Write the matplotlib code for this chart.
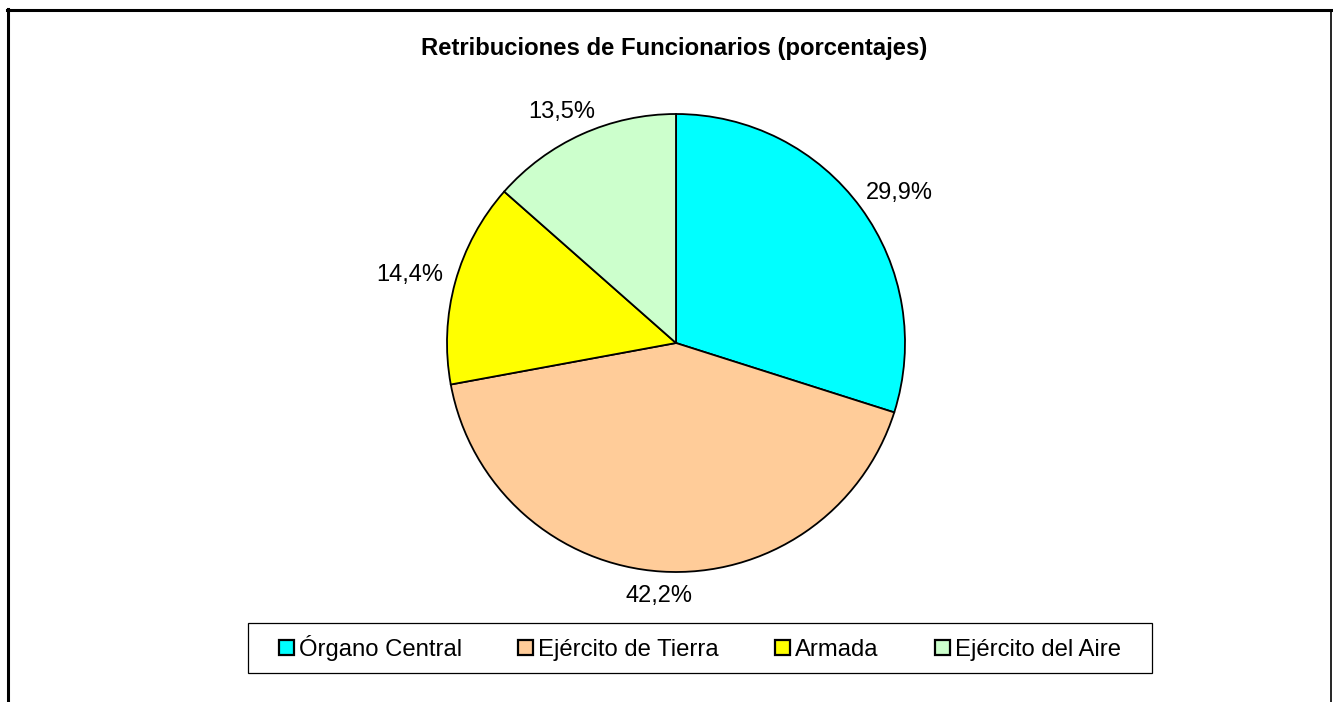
import math
import matplotlib.pyplot as plt
from matplotlib.patches import Patch, Rectangle
from matplotlib.lines import Line2D

# Chart data
categories = ['Órgano Central', 'Ejército de Tierra', 'Armada', 'Ejército del Aire']
shares = [29.9, 42.2, 14.4, 13.5]
colors = ['#00FFFF', '#FFCC99', '#FFFF00', '#CCFFCC']
title = 'Retribuciones de Funcionarios (porcentajes)'

plt.rcParams['font.family'] = ['Liberation Sans', 'DejaVu Sans']

W, H = 1333, 702
fig = plt.figure(figsize=(W / 100, H / 100), dpi=100)
fig.patch.set_facecolor('white')

# Pie area (square), centered on the pie center
cx, cy, r = 676, 343, 229
ax = fig.add_axes([(cx - r) / W, (H - cy - r) / H, 2 * r / W, 2 * r / H])

wedges, _ = ax.pie(shares, colors=colors, startangle=90, counterclock=False,
                   wedgeprops={'edgecolor': 'black', 'linewidth': 1.3})
ax.set_xlim(-1, 1)
ax.set_ylim(-1, 1)
ax.set_aspect('equal')
ax.axis('off')

# Percentage labels placed just outside each wedge, like Excel does:
# the text box sits a small gap away from the rim along the wedge's mid angle
pctLabels = [('%.1f%%' % v).replace('.', ',') for v in shares]
texts = [ax.text(0, 0, s, ha='center', va='center', fontsize=17) for s in pctLabels]

fig.text(674 / W, 1 - 49 / H, title, ha='center', va='center',
         fontsize=17.2, fontweight='bold')

# Legend along the bottom (frame drawn separately, wider on the sides)
handles = [Patch(facecolor=c, edgecolor='black', linewidth=1.6) for c in colors]
leg = fig.legend(handles, categories, loc='center', ncol=4,
                 bbox_to_anchor=(700 / W, 1 - 648 / H), fontsize=17.2,
                 frameon=False, handlelength=0.62, handleheight=0.62,
                 handletextpad=0.22, columnspacing=2.35, borderpad=0.55)

fig.canvas.draw()
renderer = fig.canvas.get_renderer()
gap = 14  # pixels
for w, t in zip(wedges, texts):
    theta = math.radians((w.theta1 + w.theta2) / 2)
    bb = t.get_window_extent(renderer)
    dx = (r + gap) * math.cos(theta) + bb.width / 2 * math.cos(theta)
    dy = (r + gap) * math.sin(theta) + bb.height / 2 * math.sin(theta)
    t.set_position((dx / r, dy / r))

lb = leg.get_window_extent(renderer)
padX, padY = 18, -1
fig.add_artist(Rectangle(((lb.x0 - padX) / W, (lb.y0 - padY) / H),
                         (lb.width + 2 * padX) / W, (lb.height + 2 * padY) / H,
                         transform=fig.transFigure, facecolor='none',
                         edgecolor='black', linewidth=0.9))

# Outer chart border (bottom edge is cut off)
fig.add_artist(Line2D([8 / W, 8 / W], [0, 1 - 9 / H], color='black', lw=2.2, transform=fig.transFigure))
fig.add_artist(Line2D([7 / W, 1331 / W], [1 - 10 / H, 1 - 10 / H], color='black', lw=2.2, transform=fig.transFigure))
fig.add_artist(Line2D([1331 / W, 1331 / W], [0, 1 - 10 / H], color='black', lw=1.2, transform=fig.transFigure))

fig.savefig('out.png', dpi=100)
